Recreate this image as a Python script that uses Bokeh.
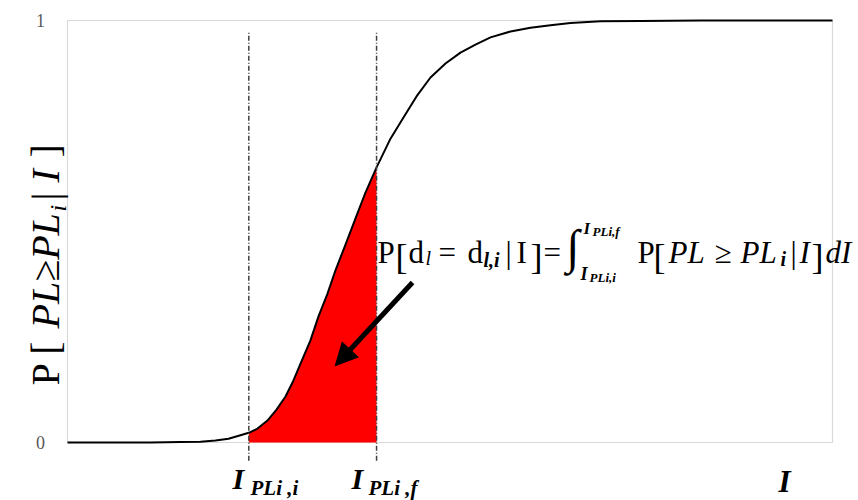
import math
from bokeh.plotting import figure
from bokeh.models import Label, Arrow, NormalHead
from bokeh.embed import file_html
from bokeh.resources import INLINE
from bokeh.core.properties import value

# ---------------- data ----------------
curve_x = [0, 10.85, 14.77, 17.39, 19.35, 21.05, 22.61, 23.7, 24.84, 26.14, 27.32, 28.50,
           29.54, 30.46, 31.76, 32.81, 33.99, 35.03, 36.34, 37.65, 38.95, 40.4, 42.22,
           43.92, 45.62, 47.45, 49.41, 51.37, 53.33, 55.29, 57.91, 60.52, 63.14, 65.75,
           69.67, 74.90, 82.75, 100]
curve_y = [0, 0, 0.001, 0.002, 0.005, 0.009, 0.017, 0.023, 0.033, 0.052, 0.078, 0.109,
           0.147, 0.187, 0.242, 0.299, 0.353, 0.408, 0.469, 0.531, 0.592, 0.652, 0.720,
           0.770, 0.820, 0.865, 0.898, 0.924, 0.943, 0.960, 0.974, 0.983, 0.989, 0.994,
           0.998, 0.999, 1.0, 1.0]
I_initial = 23.7   # I_PLi,i
I_final = 40.4     # I_PLi,f
y_ticks = [0, 1]
y_tick_labels = ["0", "1"]
arrow_tail = (45.1, 0.379)
arrow_tip = (35.0, 0.182)

# ---------------- layout ----------------
W, H = 858, 500
X0_PX, X1_PX = 67, 832     # px of x = 0 and x = 100
Y0_PX, Y1_PX = 442, 20     # px of y = 0 and y = 1
sx = (X1_PX - X0_PX) / (curve_x[-1] - curve_x[0])
sy = (Y0_PX - Y1_PX) / 1.0
x_start = curve_x[0] - X0_PX / sx
x_end = curve_x[0] + (W - X0_PX) / sx
y_end = Y0_PX / sy
y_start = -(H - Y0_PX) / sy

p = figure(width=W, height=H, output_backend="svg", toolbar_location=None,
           x_range=(x_start, x_end), y_range=(y_start, y_end),
           x_axis_type=None, y_axis_type=None, min_border=0)
p.outline_line_color = None
p.background_fill_color = "white"
p.border_fill_color = "white"

FONT = "Liberation Serif"

# plot-area box
p.quad(left=curve_x[0], right=curve_x[-1], bottom=y_ticks[0], top=y_ticks[-1],
       fill_color=None, line_color="#d9d9d9", line_width=1.2)

# red filled area
fx = [x for x in curve_x if I_initial <= x <= I_final]
fy = [y for x, y in zip(curve_x, curve_y) if I_initial <= x <= I_final]
p.varea(x=fx, y1=[0] * len(fx), y2=fy, fill_color="#ff0000")

# curve
p.line(curve_x, curve_y, line_color="black", line_width=2, line_join="round")

# vertical dash-dot lines
p.segment(x0=[I_initial, I_final], y0=[-0.043, -0.043], x1=[I_initial, I_final], y1=[0.972, 0.972],
          line_color="#404040", line_width=1.5, line_dash="5 2 1 2")

# arrow
p.add_layout(Arrow(x_start=arrow_tail[0], y_start=arrow_tail[1], x_end=arrow_tip[0], y_end=arrow_tip[1],
                   line_width=5, line_color="black",
                   end=NormalHead(size=22, fill_color="black", line_color="black", line_width=1)))

# tick labels
p.text(x=[(40 - X0_PX) / sx] * len(y_ticks), y=y_ticks, text=y_tick_labels,
       text_font=value(FONT), text_font_size="18px", text_color="#595959",
       text_align="center", text_baseline="middle")


def put(txt, px, py, size, style="normal", angle=0.0, align="left", baseline="alphabetic", color="black"):
    p.add_layout(Label(x=px, y=H - py, x_units="screen", y_units="screen",
                       text=txt, text_font=FONT, text_font_size=f"{size}px",
                       text_font_style=style, angle=angle, text_align=align,
                       text_baseline=baseline, text_color=color))


# y-axis label, rotated (reads bottom to top)
A = math.pi / 2
put("P [ ", 45, 385, 40, angle=A)
put("PL≥PL", 45, 328, 40, "italic", angle=A)
put("i", 57, 211, 24, "italic", angle=A)
put("|", 45, 200, 40, angle=A)
put("I", 45, 182, 40, "italic", angle=A)
put("]", 45, 157, 40, angle=A)

# formula
put("P", 377, 252, 31)
put("[", 395, 256, 36)
put("d", 408, 252, 31)
put("l", 425, 257, 20, "italic")
put("=", 438, 252, 31)
put("d", 467, 252, 31)
put("l,i", 483, 259, 20, "bold italic")
put("|", 505, 252, 31)
put("I", 516, 252, 31)
put("]", 530, 256, 36)
put("=", 543, 252, 31)
put("∫", 566, 246, 48)
put("I", 580, 273, 18, "bold italic")
put("PLi,i", 589, 277, 13, "bold italic")
put("I", 583, 228, 17, "bold italic")
put("PLi,f", 592, 231, 13, "bold italic")
put("P", 637, 252, 31)
put("[", 653, 256, 36)
put("PL", 668, 252, 31, "italic")
put("≥", 714, 252, 31)
put("PL", 740, 252, 31, "italic")
put("i", 780, 258, 20, "bold italic")
put("|", 790, 252, 31)
put("I", 799, 252, 31, "italic")
put("]", 811, 256, 36)
put("dI", 825, 252, 31, "italic")

# x labels
put("I", 232, 478, 30, "bold italic")
put("PLi ,i", 250, 487, 21, "bold italic")
put("I", 351, 478, 30, "bold italic")
put("PLi ,f", 368, 487, 21, "bold italic")
put("I", 778, 481, 31, "bold italic")

open("out.html", "w").write(file_html(p, INLINE))
